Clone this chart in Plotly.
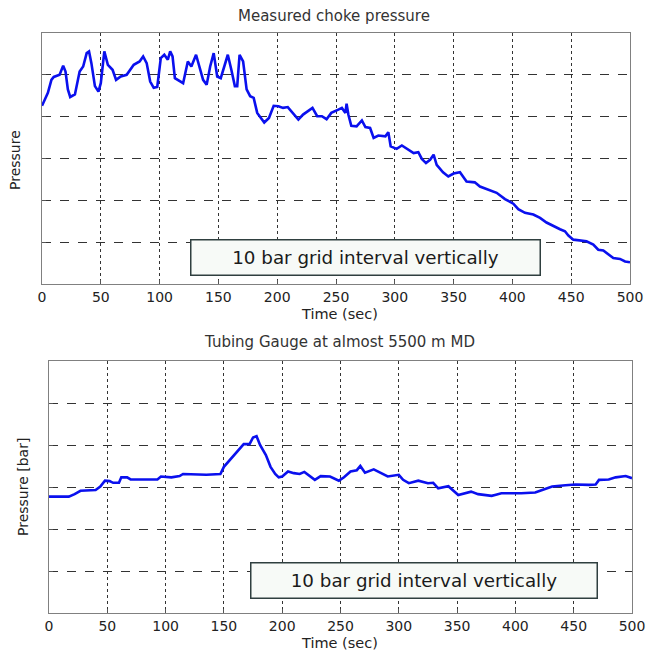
import plotly.graph_objects as go

# ---- data: Measured choke pressure (relative units, 10 bar per grid) ----
t_choke = [0, 2, 5, 8, 10, 15, 18, 20, 22, 24, 28, 32, 35, 38, 40, 42, 45, 48, 50, 53,
           56, 60, 63, 67, 72, 78, 83, 86, 89, 92, 95, 98, 101, 104, 107, 109, 111, 113,
           117, 120, 124, 127, 131, 134, 137, 140, 143, 146, 149, 152, 155, 158, 161,
           164, 166, 168, 171, 174, 177, 180, 183, 186, 189, 193, 197, 201, 205, 209,
           213, 218, 222, 226, 230, 234, 238, 242, 246, 252, 255, 258, 259, 260.5, 263,
           267.5, 272, 275, 279, 282, 286, 292, 294.5, 296.5, 301.6, 306, 311.5, 316,
           320, 323, 326.5, 330, 333, 335.6, 341, 345.5, 350, 355.4, 361, 368, 372.4,
           378, 384, 386.6, 393.7, 400.8, 405, 410.7, 417.8, 423.5, 429, 434.8, 440.5,
           444.7, 447.6, 451.8, 457.5, 463, 468.8, 473, 477.3, 481.6, 485.8, 491.5,
           495.8, 500]
p_choke = [42.6, 44.0, 45.7, 48.8, 49.5, 50.0, 52.2, 50.8, 46.5, 44.7, 45.3, 50.8, 52.0,
           55.2, 55.6, 52.8, 47.3, 46.0, 48.0, 55.6, 52.4, 51.2, 48.8, 49.6, 50.0, 52.4,
           53.2, 54.4, 52.8, 48.4, 46.9, 47.1, 54.0, 54.8, 53.6, 55.6, 54.4, 49.2, 48.4,
           48.0, 53.2, 52.0, 54.8, 51.6, 48.8, 47.6, 52.0, 55.2, 49.6, 49.2, 52.0, 54.8,
           51.2, 47.3, 47.3, 54.8, 53.2, 46.5, 44.9, 44.5, 40.9, 39.7, 38.6, 39.7, 42.6,
           42.5, 42.1, 42.3, 40.9, 39.3, 40.5, 41.3, 42.1, 40.1, 40.1, 39.4, 40.9, 41.7,
           42.1, 40.9, 43.1, 40.5, 37.8, 37.7, 39.1, 37.5, 37.3, 34.9, 35.5, 35.3, 36.3,
           32.9, 32.3, 33.1, 32.1, 31.3, 31.5, 29.9, 28.9, 29.7, 30.9, 28.5, 26.7, 25.7,
           26.4, 26.7, 24.5, 24.3, 23.3, 22.7, 22.2, 21.8, 20.3, 19.2, 17.9, 17.0, 16.6,
           15.8, 14.7, 13.8, 13.1, 12.6, 11.6, 10.6, 10.4, 10.2, 9.4, 8.2, 8.0, 7.0, 6.2,
           6.0, 5.4, 5.2]

# ---- data: Tubing gauge at almost 5500 m MD ----
t_gauge = [0, 17, 22, 27, 40, 44, 48, 52, 55, 60, 62, 67, 70, 93, 96, 105, 112, 115, 135,
           147, 150, 155, 162, 167, 172, 175, 178, 181, 186, 190, 194, 197, 200, 205, 210,
           215, 219, 224, 228, 233, 241, 248.6, 253, 258.6, 264, 267, 271, 278.5, 286,
           290.5, 300, 303.7, 308.6, 316.7, 325, 329.5, 333.8, 342.5, 351, 356.6, 362,
           368, 379.6, 382.5, 388, 405, 417, 423, 431.5, 443, 451.5, 463, 468.8, 471.7,
           480, 486, 494.6, 500]
p_gauge = [27.7, 27.7, 28.3, 29.1, 29.3, 30.1, 31.5, 31.4, 31.0, 31.0, 32.3, 32.3, 31.8,
           31.8, 32.5, 32.3, 32.6, 33.1, 32.9, 33.1, 34.8, 36.4, 38.8, 40.2, 40.2, 41.8,
           42.1, 40.0, 37.6, 34.8, 33.1, 32.3, 32.5, 33.7, 33.3, 33.1, 33.6, 32.6, 31.7,
           32.6, 32.5, 31.5, 32.3, 33.7, 34.0, 35.0, 33.4, 34.2, 33.1, 32.5, 32.9, 31.7,
           30.9, 31.5, 30.9, 31.0, 29.7, 30.2, 28.1, 28.5, 28.9, 28.3, 27.9, 28.1, 28.5,
           28.5, 28.7, 29.3, 30.1, 30.4, 30.6, 30.5, 30.6, 31.7, 31.8, 32.3, 32.6, 32.1]

x_ticks = [0, 50, 100, 150, 200, 250, 300, 350, 400, 450, 500]
y_grid = [0, 10, 20, 30, 40, 50, 60]

titles = ["Measured choke pressure", "Tubing Gauge at almost 5500 m MD"]
ylabels = ["Pressure", "Pressure [bar]"]
xlabel = "Time (sec)"
note = "10 bar grid interval vertically"

W, H = 647, 653
FONT = "DejaVu Sans"
LINE = "#0a10ee"

fig = go.Figure()
fig.add_trace(go.Scatter(x=t_choke, y=p_choke, mode="lines",
                         line=dict(color=LINE, width=2.6), xaxis="x", yaxis="y",
                         showlegend=False, hoverinfo="skip"))
fig.add_trace(go.Scatter(x=t_gauge, y=p_gauge, mode="lines",
                         line=dict(color=LINE, width=2.6), xaxis="x2", yaxis="y2",
                         showlegend=False, hoverinfo="skip"))

def px(v):
    return v / W

def py(v):
    return 1 - v / H

common_x = dict(range=[0, 500], tickvals=x_ticks, showgrid=True, gridcolor="#333333",
                griddash="dot", gridwidth=1, showline=True, linecolor="#808080",
                linewidth=1.2, mirror=True, ticks="inside", ticklen=4, tickcolor="#555555",
                zeroline=False, tickfont=dict(family=FONT, size=14, color="#222222"),
                automargin=False, fixedrange=True)
common_y = dict(range=[0, 60], tickvals=y_grid, showgrid=True, gridcolor="#333333",
                griddash="dash", gridwidth=1, showline=True, linecolor="#808080",
                linewidth=1.2, mirror=True, ticks="inside", ticklen=4, tickcolor="#555555",
                zeroline=False, showticklabels=False, automargin=False, fixedrange=True)

# plot areas in pixels (left, right, top, bottom)
top_box = (42, 630, 33, 284)
bot_box = (49, 632, 361, 613)

fig.update_layout(
    width=W, height=H, margin=dict(l=0, r=0, t=0, b=0, autoexpand=False),
    paper_bgcolor="white", plot_bgcolor="white",
    xaxis=dict(domain=[px(top_box[0]), px(top_box[1])], anchor="y", **common_x),
    yaxis=dict(domain=[py(top_box[3]), py(top_box[2])], anchor="x", **common_y),
    xaxis2=dict(domain=[px(bot_box[0]), px(bot_box[1])], anchor="y2", **common_x),
    yaxis2=dict(domain=[py(bot_box[3]), py(bot_box[2])], anchor="x2", **common_y),
)

def label(text, x, y, size, color="#222222", angle=0):
    return dict(text=text, x=px(x), y=py(y), xref="paper", yref="paper",
                xanchor="center", yanchor="middle", showarrow=False, textangle=angle,
                font=dict(family=FONT, size=size, color=color))

ann = [
    label(titles[0], 334, 16, 15, "#333333"),
    label(titles[1], 339, 342, 15, "#333333"),
    label(xlabel, 339, 314, 14.5),
    label(xlabel, 339, 643, 14.5),
    label(ylabels[0], 15, 160, 14, angle=-90),
    label(ylabels[1], 23, 487, 14, angle=-90),
]
# note boxes
for cx, cy, w in [((190 + 540) / 2, (239 + 275) / 2, 346), ((250 + 597) / 2, (563 + 598) / 2, 343)]:
    ann.append(dict(text=note, x=px(cx), y=py(cy), xref="paper", yref="paper",
                    xanchor="center", yanchor="middle",
                    showarrow=False, width=w, height=32, align="center", valign="middle",
                    bgcolor="#f7faf7", bordercolor="#2f3f3f", borderwidth=1.5, borderpad=1,
                    font=dict(family=FONT, size=18.3, color="#1a1a1a")))
fig.update_layout(annotations=ann)

fig.write_html("out.html", config={"displayModeBar": False},
               post_script="document.body.style.margin='0';document.body.style.overflow='hidden';")
